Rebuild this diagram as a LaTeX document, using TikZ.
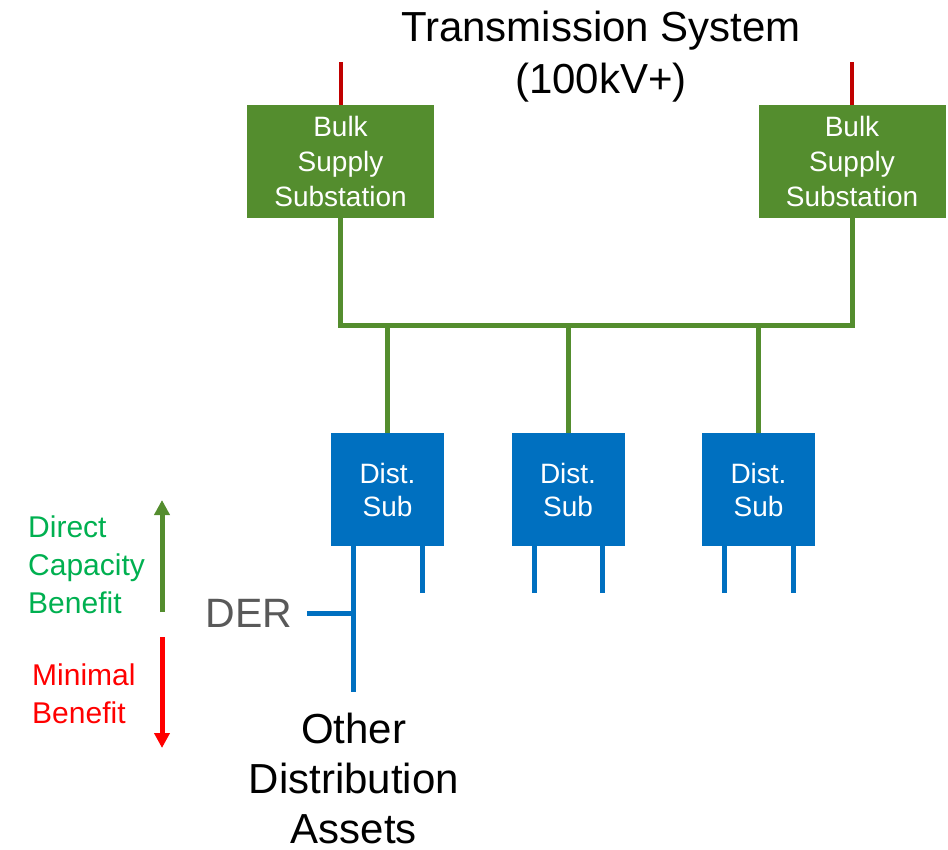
\documentclass[tikz,border=0pt]{standalone}
\usepackage{fontspec}
\setmainfont{Liberation Sans}
\usetikzlibrary{arrows.meta, positioning}
\definecolor{bulkgreen}{RGB}{84,141,46}
\definecolor{distblue}{RGB}{0,112,192}
\definecolor{hvred}{RGB}{192,0,0}
\definecolor{textgreen}{RGB}{0,176,80}
\definecolor{dergrey}{RGB}{89,89,89}
\tikzset{
  bulk/.style = {fill=bulkgreen, text=white, minimum width=187pt,
                 minimum height=113pt, inner sep=0pt, align=center,
                 font=\fontsize{28}{35}\selectfont},
  dist/.style = {fill=distblue, text=white, minimum width=113pt,
                 minimum height=113pt, inner sep=0pt, align=center,
                 font=\fontsize{28}{33}\selectfont},
  hv line/.style = {line width=4pt, hvred},
  bus line/.style = {line width=5pt, bulkgreen},
  feeder/.style = {line width=5pt, distblue},
  benefit/.style = {line width=5pt, arrows={-Triangle[width=15pt, length=15pt]}},
  side text/.style = {align=left, anchor=west, inner sep=0pt,
                      font=\fontsize{30}{38}\selectfont},
}

\begin{document}
\begin{tikzpicture}[x=1pt, y=-1pt]
  \useasboundingbox (0,0) rectangle (948,849);

  % Transmission level
  \node (trans) at (601,57) [align=center, font=\fontsize{42}{52}\selectfont]
    {Transmission System\\(100kV+)};

  \node (bsp0) at (340.5,161.5) [bulk] {Bulk\\Supply\\Substation};
  \node (bsp1) at (852,161.5) [bulk] {Bulk\\Supply\\Substation};
  \foreach \b in {0, 1}
    \draw [hv line] (bsp\b.north) -- ++(0,-43) coordinate (hv\b);

  % Distribution substations
  \node (ds0) at (387.5,489.5) [dist] {Dist.\\Sub};
  \node (ds1) at (568,489.5) [dist] {Dist.\\Sub};
  \node (ds2) at (758.5,489.5) [dist] {Dist.\\Sub};

  % Bus between the bulk supply points
  \draw [bus line, line join=miter] (bsp0.south) -- ++(0,107) coordinate (bus0)
    -- (bus0 -| bsp1.south) coordinate (bus1) -- (bsp1.south);
  \foreach \d in {0, 1, 2}
    \draw [bus line] (ds\d.north) -- (ds\d.north |- bus0);

  % Feeders
  \draw [feeder] ([xshift=23pt]ds0.south west) -- ++(0,146) coordinate (oda);
  \foreach \d in {1, 2}
    \draw [feeder] ([xshift=23pt]ds\d.south west) -- ++(0,47);
  \foreach \d in {0, 1, 2}
    \draw [feeder] ([xshift=-22pt]ds\d.south east) -- ++(0,47);

  \node (der) at (249,613) [font=\fontsize{41}{48}\selectfont, text=dergrey] {DER};
  \draw [feeder] ([xshift=11pt]der.east) -- (der.east -| oda);

  \node (other) [below=21pt of oda, anchor=north, align=center, inner sep=0pt,
                 font=\fontsize{42}{50}\selectfont] {Other\\Distribution\\Assets};

  % Benefit arrows
  \coordinate (split) at (162,625);
  \draw [benefit, bulkgreen] ([yshift=13pt]split) -- ++(0,-112) coordinate (up);
  \draw [benefit, red] ([yshift=-12pt]split) -- ++(0,111) coordinate (down);

  \node (direct) at (28,565) [side text, text=textgreen] {Direct\\Capacity\\Benefit};
  \node (minimal) at (32,694) [side text, text=red] {Minimal\\Benefit};
\end{tikzpicture}
\end{document}
